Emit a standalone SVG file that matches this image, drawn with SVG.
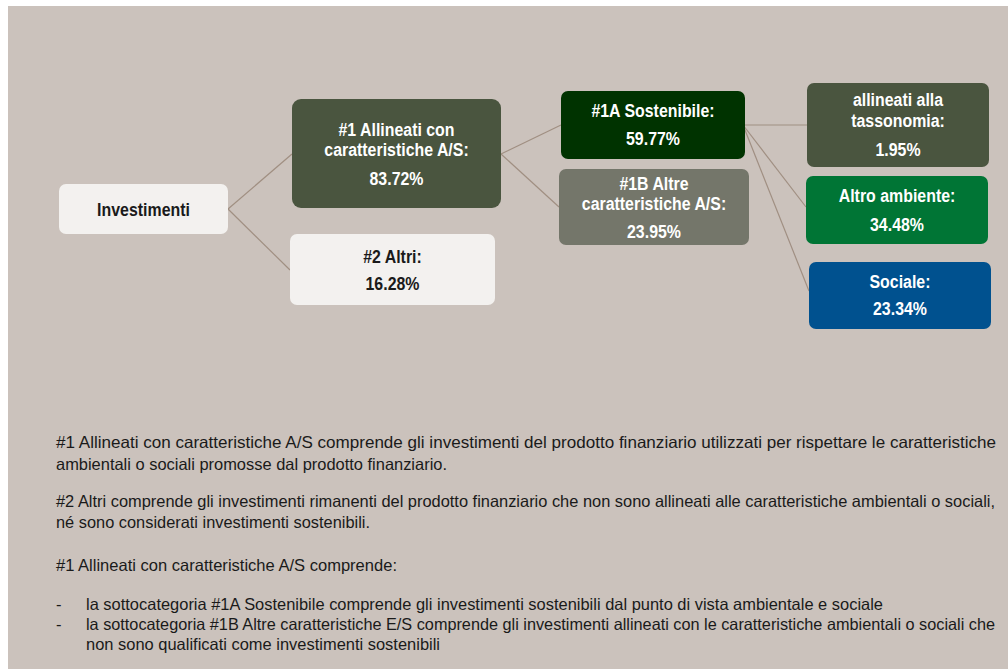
<svg xmlns="http://www.w3.org/2000/svg" width="1008" height="669" viewBox="0 0 1008 669">
<style>
.bg{fill:#cbc2bc}
.box{stroke:none}
.lt{fill:#f3f1ef}
.ol{fill:#4a553f}
.dk{fill:#003300}
.gr{fill:#74766a}
.em{fill:#007535}
.bl{fill:#00518f}
.t{font-family:"Liberation Sans",Arial,sans-serif;font-weight:bold;font-size:18.5px;text-anchor:middle}
.w{fill:#ffffff}
.k{fill:#1a1a1a}
.c{stroke:#a08f82;stroke-width:1.2;fill:none}
.p{font-family:"Liberation Sans",Arial,sans-serif;font-size:16.5px;fill:#1a1a1a}
</style>
<rect x="0" y="0" width="1008" height="669" fill="#ffffff"/>
<rect class="bg" x="8" y="6" width="1000" height="663"/>
<g id="connectors">
<line class="c" x1="228" y1="209" x2="292" y2="154"/>
<line class="c" x1="228" y1="209" x2="290" y2="270"/>
<line class="c" x1="501" y1="154" x2="561" y2="125"/>
<line class="c" x1="501" y1="154" x2="559" y2="207"/>
<line class="c" x1="743" y1="125" x2="807" y2="125"/>
<line class="c" x1="743" y1="125" x2="806" y2="207"/>
<line class="c" x1="743" y1="125" x2="809" y2="291"/>
</g>
<g id="investimenti">
<rect class="box lt" x="59" y="184" width="169" height="50" rx="7"/>
<g transform="translate(143.5 0) scale(0.86 1)"><text class="t k" x="0" y="216">Investimenti</text></g>
</g>
<g id="allineati">
<rect class="box ol" x="292" y="99" width="209" height="109" rx="9"/>
<g transform="translate(396.5 0) scale(0.86 1)">
<text class="t w" x="0" y="136">#1 Allineati con</text>
<text class="t w" x="0" y="156">caratteristiche A/S:</text>
<text class="t w" x="0" y="185">83.72%</text>
</g>
</g>
<g id="altri">
<rect class="box lt" x="290" y="234" width="205" height="71" rx="7"/>
<g transform="translate(392.5 0) scale(0.86 1)">
<text class="t k" x="0" y="263">#2 Altri:</text>
<text class="t k" x="0" y="290">16.28%</text>
</g>
</g>
<g id="sostenibile">
<rect class="box dk" x="561" y="91" width="184" height="68" rx="7"/>
<g transform="translate(653 0) scale(0.86 1)">
<text class="t w" x="0" y="117">#1A Sostenibile:</text>
<text class="t w" x="0" y="145">59.77%</text>
</g>
</g>
<g id="altre">
<rect class="box gr" x="559" y="169" width="190" height="76" rx="7"/>
<g transform="translate(654 0) scale(0.86 1)">
<text class="t w" x="0" y="190">#1B Altre</text>
<text class="t w" x="0" y="210">caratteristiche A/S:</text>
<text class="t w" x="0" y="238">23.95%</text>
</g>
</g>
<g id="tassonomia">
<rect class="box ol" x="807" y="83" width="182" height="84" rx="7"/>
<g transform="translate(898 0) scale(0.86 1)">
<text class="t w" x="0" y="106">allineati alla</text>
<text class="t w" x="0" y="127">tassonomia:</text>
<text class="t w" x="0" y="156">1.95%</text>
</g>
</g>
<g id="ambiente">
<rect class="box em" x="806" y="176" width="182" height="68" rx="7"/>
<g transform="translate(897 0) scale(0.86 1)">
<text class="t w" x="0" y="202">Altro ambiente:</text>
<text class="t w" x="0" y="231">34.48%</text>
</g>
</g>
<g id="sociale">
<rect class="box bl" x="809" y="262" width="182" height="67" rx="7"/>
<g transform="translate(900 0) scale(0.86 1)">
<text class="t w" x="0" y="288">Sociale:</text>
<text class="t w" x="0" y="315">23.34%</text>
</g>
</g>
<g id="notes">
<text class="p" x="56" y="448" textLength="940" lengthAdjust="spacingAndGlyphs">#1 Allineati con caratteristiche A/S comprende gli investimenti del prodotto finanziario utilizzati per rispettare le caratteristiche</text>
<text class="p" x="56" y="470" textLength="391" lengthAdjust="spacingAndGlyphs">ambientali o sociali promosse dal prodotto finanziario.</text>
<text class="p" x="56" y="507" textLength="939" lengthAdjust="spacingAndGlyphs">#2 Altri comprende gli investimenti rimanenti del prodotto finanziario che non sono allineati alle caratteristiche ambientali o sociali,</text>
<text class="p" x="56" y="528" textLength="314" lengthAdjust="spacingAndGlyphs">né sono considerati investimenti sostenibili.</text>
<text class="p" x="56" y="571" textLength="341" lengthAdjust="spacingAndGlyphs">#1 Allineati con caratteristiche A/S comprende:</text>
<text class="p" x="56" y="610">-</text>
<text class="p" x="86" y="610" textLength="797" lengthAdjust="spacingAndGlyphs">la sottocategoria #1A Sostenibile comprende gli investimenti sostenibili dal punto di vista ambientale e sociale</text>
<text class="p" x="56" y="630">-</text>
<text class="p" x="86" y="630" textLength="909" lengthAdjust="spacingAndGlyphs">la sottocategoria #1B Altre caratteristiche E/S comprende gli investimenti allineati con le caratteristiche ambientali o sociali che</text>
<text class="p" x="86" y="650" textLength="354" lengthAdjust="spacingAndGlyphs">non sono qualificati come investimenti sostenibili</text>
</g>
</svg>
